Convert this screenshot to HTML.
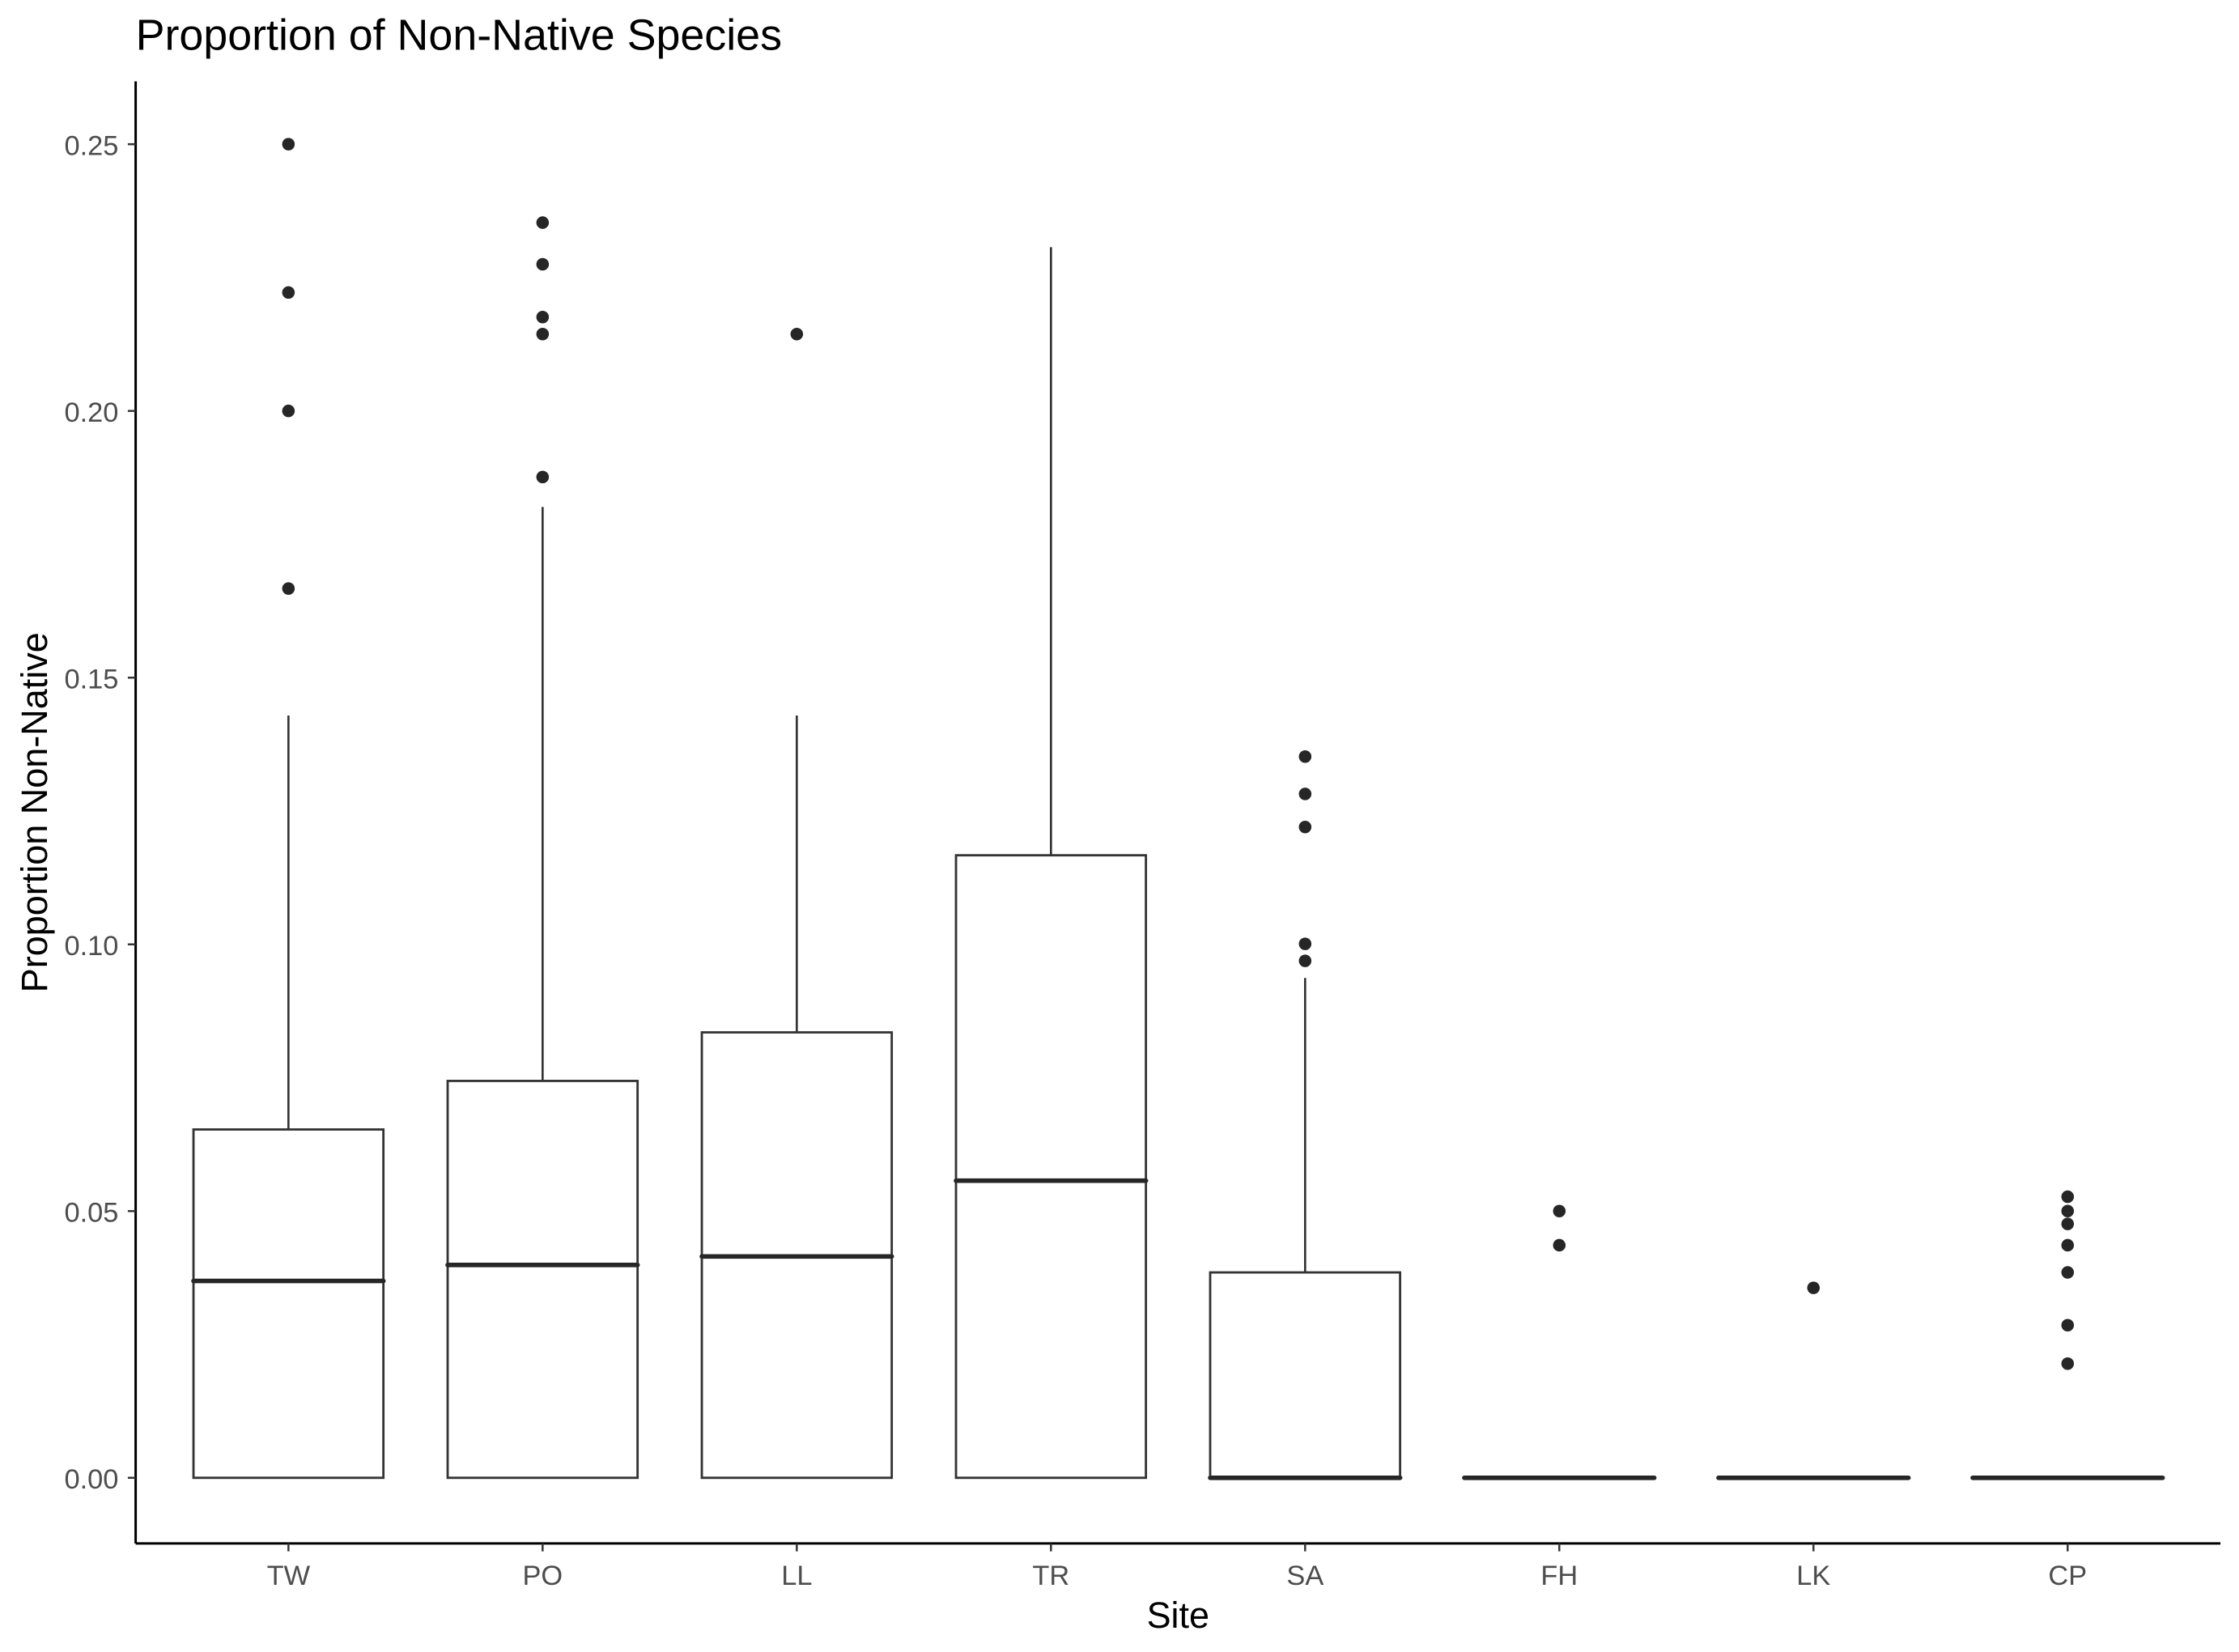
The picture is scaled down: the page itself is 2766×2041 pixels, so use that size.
<!DOCTYPE html>
<html><head><meta charset="utf-8"><style>
html,body{margin:0;padding:0;background:#fff;}
svg{display:block;}
text{font-family:"Liberation Sans",Arial,sans-serif;}
</style></head>
<body>
<svg id="chart" width="2766" height="2041" viewBox="0 0 1568 1157" xmlns="http://www.w3.org/2000/svg">
<rect width="1568" height="1157" fill="#fff"/>
<text x="95" y="35" font-size="30.5" fill="#000">Proportion of Non-Native Species</text>
<text transform="translate(33,569) rotate(-90)" text-anchor="middle" font-size="25.5" fill="#000">Proportion Non-Native</text>
<text x="825" y="1140" text-anchor="middle" font-size="25.5" fill="#000">Site</text>
<g id="plot"></g>
</svg>
<script>
const categories = ["TW","PO","LL","TR","SA","FH","LK","CP"];
const q1Values = [0,0,0,0,0,0,0,0];
const medianValues = [0.0369,0.0399,0.0415,0.0557,0,0,0,0];
const q3Values = [0.0653,0.0744,0.0835,0.1167,0.0385,0,0,0];
const whiskerLow = [0,0,0,0,0,0,0,0];
const whiskerHigh = [0.1429,0.182,0.1429,0.2307,0.0937,0,0,0];
const outlierValues = [
  [0.25,0.2222,0.2,0.1667],
  [0.2353,0.2275,0.2176,0.2144,0.1876],
  [0.2144],
  [],
  [0.1352,0.1282,0.1220,0.1001,0.0969],
  [0.05,0.0436],
  [0.0356],
  [0.0527,0.05,0.0476,0.0436,0.0385,0.0286,0.0214]
];
const yTicks = [0,0.05,0.10,0.15,0.20,0.25];
const yTickLabels = ["0.00","0.05","0.10","0.15","0.20","0.25"];

const NS="http://www.w3.org/2000/svg";
const plot=document.getElementById('plot');
const y0px=1035, pxPer=186.8/0.05;
function yScale(v){return y0px - v*pxPer;}
function xScale(i){return 202 + i*178;}
const boxW=133;
function mk(tag,attrs){const e=document.createElementNS(NS,tag);for(const k in attrs)e.setAttribute(k,attrs[k]);plot.appendChild(e);return e;}

let ax=mk('line',{x1:95,y1:57,x2:95,y2:1081,stroke:'#000','stroke-width':1.7});


ax=mk('line',{x1:95,y1:1081,x2:1555,y2:1081,stroke:'#000','stroke-width':1.7});



yTicks.forEach((t,i)=>{
  const y=yScale(t);
  const tk=mk('line',{x1:89.5,y1:y,x2:95,y2:y,stroke:'#333','stroke-width':1.4});
  
  
  const lb=mk('text',{x:83,y:y+7.5,'text-anchor':'end','font-size':'19.5',fill:'#4d4d4d'});
  lb.textContent=yTickLabels[i];
  
  
});

categories.forEach((c,i)=>{
  const x=xScale(i);
  const tk=mk('line',{x1:x,y1:1081,x2:x,y2:1086.5,stroke:'#333','stroke-width':1.4});
  
  
  const lb=mk('text',{x:x,y:1110,'text-anchor':'middle','font-size':'19.5',fill:'#4d4d4d'});
  lb.textContent=c;
  
  

  const yq1=yScale(q1Values[i]), yq3=yScale(q3Values[i]), ym=yScale(medianValues[i]);
  const wu=mk('line',{x1:x,y1:yScale(whiskerHigh[i]),x2:x,y2:yq3,stroke:'#333','stroke-width':1.5});
  
  
  const wl=mk('line',{x1:x,y1:yq1,x2:x,y2:yScale(whiskerLow[i]),stroke:'#333','stroke-width':1.5});
  
  
  const bx=mk('rect',{x:x-boxW/2,y:yq3,width:boxW,height:Math.max(0,yq1-yq3),fill:'#fff',stroke:'#333','stroke-width':1.6});
  
  
  const md=mk('line',{x1:x-boxW/2,y1:ym,x2:x+boxW/2,y2:ym,stroke:'#262626','stroke-width':3.2,'stroke-linecap':'round'});
  
  
  outlierValues[i].forEach(v=>{
    const p=mk('circle',{cx:x,cy:yScale(v),r:4.4,fill:'#262626'});
    
    
  });
});
</script>
</body></html>
